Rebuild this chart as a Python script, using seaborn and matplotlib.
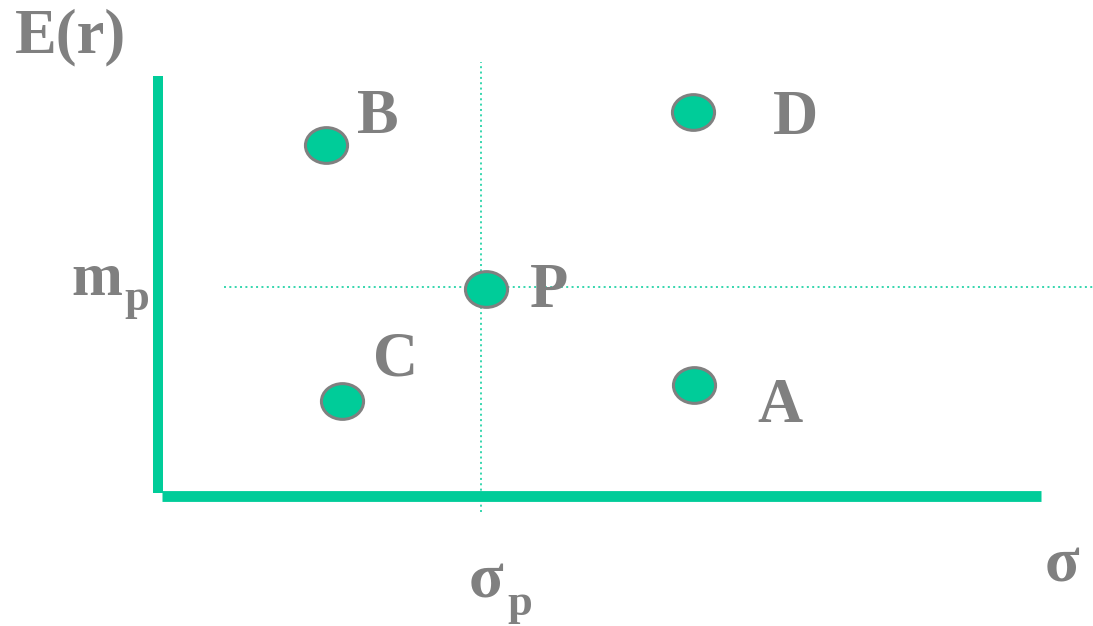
import matplotlib
matplotlib.use("Agg")
import matplotlib.pyplot as plt
from matplotlib.path import Path
from matplotlib.markers import MarkerStyle
from matplotlib.transforms import Affine2D
import seaborn as sns
import pandas as pd

# ---- data (arbitrary units: sigma, E(r)) ----
portfolios = ["B", "C", "P", "D", "A"]
sigma = [1.66, 1.82, 3.26, 5.33, 5.34]
expected_return = [3.51, 0.95, 2.07, 3.84, 1.11]
sigma_p = 3.21
mu_p = 2.09

GREEN = "#00CC99"
GRAY = "#808080"

sns.set_theme(style="white")
plt.rcParams["font.family"] = ["Liberation Serif", "DejaVu Serif"]

fig = plt.figure(figsize=(10.93, 6.26), dpi=100)
ax = fig.add_axes([0, 0, 1, 1])

# axes lines
ax.plot([-0.02, -0.02], [0.03, 4.20], color=GREEN, lw=7.2, solid_capstyle="butt")
ax.plot([0.02, 8.81], [0.0, 0.0], color=GREEN, lw=7.8, solid_capstyle="butt")

# dotted guide lines
ax.plot([sigma_p, sigma_p], [-0.16, 4.34], color=GREEN, lw=1.1, ls=(0, (1.3, 2.2)))
ax.plot([0.64, 9.33], [mu_p, mu_p], color=GREEN, lw=1.1, ls=(0, (1.3, 2.2)))

# ellipse marker
ell = Path.unit_circle().transformed(Affine2D().scale(1.18, 1.0))
df = pd.DataFrame({"sigma": sigma, "er": expected_return, "name": portfolios})
sns.scatterplot(data=df, x="sigma", y="er", marker=MarkerStyle(ell), s=920,
                color=GREEN, edgecolor=GRAY, linewidth=2.2, ax=ax, zorder=5,
                legend=False)
ax.set_xlim(-1.60, 9.33)
ax.set_ylim(-1.30, 4.96)
ax.axis("off")

tk = dict(color=GRAY, fontweight="bold", ha="left", va="baseline")
FS = 45
SUB = 32
label_pos = {"B": (1.97, 3.63), "D": (6.13, 3.62), "P": (3.70, 1.89),
             "C": (2.13, 1.21), "A": (5.97, 0.74)}
for name in portfolios:
    x, y = label_pos[name]
    ax.text(x, y, name, fontsize=FS, **tk)

ax.text(-1.45, 4.44, "E(r)", fontsize=45, **tk)
ax.text(-0.89, 2.01, "m", fontsize=44, **tk)
ax.text(-0.36, 1.86, "p", fontsize=SUB, **tk)
ax.text(3.09, -1.01, "σ", fontsize=46, **tk)
ax.text(3.47, -1.19, "p", fontsize=SUB, **tk)
ax.text(8.85, -0.86, "σ", fontsize=46, **tk)

fig.savefig("out.png", dpi=100)
